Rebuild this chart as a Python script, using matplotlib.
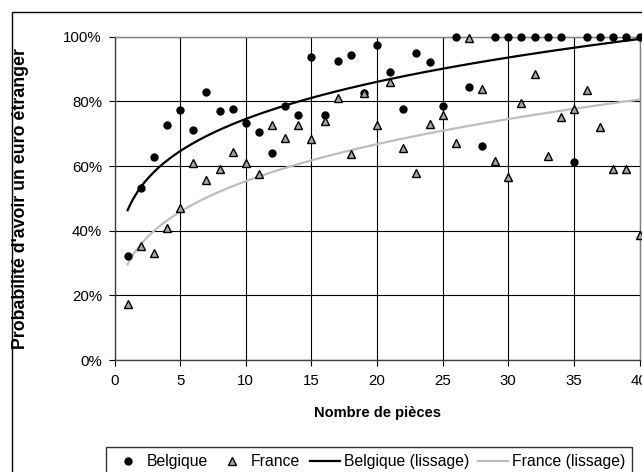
import numpy as np
import matplotlib
matplotlib.use("Agg")
import matplotlib.pyplot as plt
from matplotlib.patches import Rectangle
from matplotlib.ticker import PercentFormatter

plt.rcParams['font.family'] = ['Liberation Sans', 'DejaVu Sans']

pieces = list(range(1, 41))
belgique = [32.2, 53.1, 62.8, 72.8, 77.4, 71.0, 83.0, 77.1, 77.5, 73.2,
            70.5, 63.9, 78.7, 75.9, 93.8, 75.9, 92.6, 94.2, 82.7, 97.3,
            89.1, 77.5, 95.0, 92.3, 78.7, 100, 84.4, 66.3, 100, 100,
            100, 100, 100, 100, 61.2, 100, 100, 100, 100, 100]
france = [17.2, 35.4, 33.1, 40.8, 46.9, 60.8, 55.7, 59.1, 64.4, 60.8,
          57.5, 72.6, 68.8, 72.6, 68.4, 73.8, 81.1, 63.6, 82.7, 72.6,
          86.0, 65.7, 57.7, 73.0, 75.7, 67.2, 99.7, 83.7, 61.5, 56.5,
          79.6, 88.5, 63.0, 75.3, 77.5, 83.5, 72.2, 59.0, 59.0, 38.6]

W, H = 642, 472
fig = plt.figure(figsize=(W / 100, H / 100), dpi=100)

# outer chart border (cropped at right/bottom)
fig.patches.append(Rectangle((12 / W, -0.1), 1.2, 1 - 12 / H + 0.1,
                             transform=fig.transFigure, fill=False,
                             edgecolor='black', linewidth=1.0))

x0, x1 = 114.5, 639.5
y0, y1 = 360, 36.7
ax = fig.add_axes([x0 / W, 1 - y0 / H, (x1 - x0) / W, (y0 - y1) / H])

x = np.array(pieces, dtype=float)
b = np.array(belgique) / 100
f = np.array(france) / 100

# power trend lines (fitted on the data, as Excel does)
xs = np.linspace(1, 40, 200)
pb = np.polyfit(np.log(x), np.log(b), 1)
pf = np.polyfit(np.log(x), np.log(f), 1)
ax.plot(xs, np.exp(pb[1]) * xs ** pb[0], color='black', lw=1.6, zorder=3,
        label='Belgique (lissage)')
ax.plot(xs, np.exp(pf[1]) * xs ** pf[0], color='#BEBEBE', lw=1.6, zorder=3,
        label='France (lissage)')

ax.plot(x, b, 'o', color='black', ms=5, zorder=4, clip_on=False,
        label='Belgique')
ax.plot(x, f, '^', mfc='#A6A6A6', mec='black', mew=1.0, ms=6, zorder=5,
        clip_on=False, label='France')

ax.set_xlim(0, 40)
ax.set_ylim(0, 1)
ax.set_xticks(range(0, 41, 5))
ax.set_yticks(np.arange(0, 1.01, 0.2))
ax.yaxis.set_major_formatter(PercentFormatter(1.0, decimals=0))
ax.grid(True, color='black', lw=0.8)
ax.set_axisbelow(True)
for s in ['top', 'right']:
    ax.spines[s].set_color('#808080')
    ax.spines[s].set_linewidth(1.0)
for s in ['left', 'bottom']:
    ax.spines[s].set_color('#404040')
    ax.spines[s].set_linewidth(1.0)
ax.tick_params(direction='out', length=4, width=0.8, labelsize=10.8, pad=5)
ax.tick_params(axis='x', pad=6)

ax.set_xlabel('Nombre de pièces', fontsize=10.5, fontweight='bold')
ax.set_ylabel("Probabilité d'avoir un euro étranger", fontsize=12.8,
              fontweight='bold')
ax.xaxis.set_label_coords(0.5, -0.142)
ax.yaxis.set_label_coords(-0.162, 0.5)

h, l = ax.get_legend_handles_labels()
order = [2, 3, 0, 1]
leg = fig.legend([h[i] for i in order], [l[i] for i in order], ncol=4,
                 loc='upper left', bbox_to_anchor=(106 / W, 1 - 447 / H),
                 borderaxespad=0.0,
                 frameon=True, fancybox=False, edgecolor='black',
                 fontsize=11.3, handlelength=1.9, handletextpad=0.25,
                 columnspacing=0.6, borderpad=0.45, numpoints=1)
leg.get_frame().set_linewidth(1.0)

fig.savefig('out.png', dpi=100)
